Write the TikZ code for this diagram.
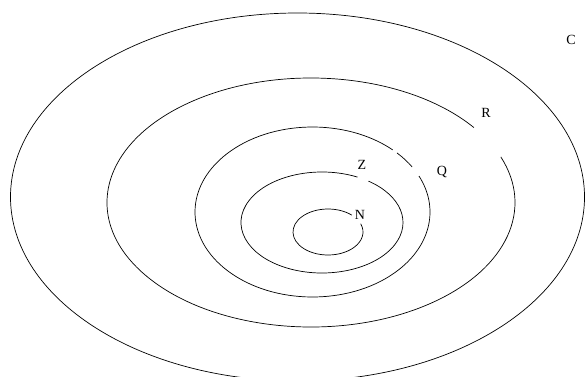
\documentclass[tikz,border=0pt]{standalone}
\usepackage{fontspec}
\setmainfont{Liberation Serif}
\begin{document}
\begin{tikzpicture}[x=1pt,y=1pt,
  ring/.style={line width=0.7pt, black},
  lab/.style={font=\fontsize{14}{16}\selectfont, inner sep=0pt}]
\useasboundingbox (0,0) rectangle (586,376);
\clip (0,0) rectangle (586,376);
% outer C
\draw[ring] (297.5,179) ellipse [x radius=287, y radius=184];
% R
\draw[ring] (311,173.5) ++(37:204 and 124.5) arc[start angle=37, end angle=381.5, x radius=204, y radius=124.5];
% Q
\draw[ring] (312.5,164) ++(47:117.5 and 85) arc[start angle=47, end angle=385, x radius=117.5, y radius=85];
\draw[ring] (312.5,164) ++(32:117.5 and 85) arc[start angle=32, end angle=44, x radius=117.5, y radius=85];
% Z
\draw[ring] (322,153.5) ++(64:81 and 50.5) arc[start angle=64, end angle=415, x radius=81, y radius=50.5];
% N
\draw[ring] (328,144) ++(47:35 and 23) arc[start angle=47, end angle=381, x radius=35, y radius=23];
% labels
\node[lab] (C) at (571,336) {C};
\node[lab] (R) at (486,263) {R};
\node[lab] (Q) at (442,204) {Q};
\node[lab] (Z) at (362,211) {Z};
\node[lab] (N) at (360,161) {N};
\end{tikzpicture}
\end{document}
